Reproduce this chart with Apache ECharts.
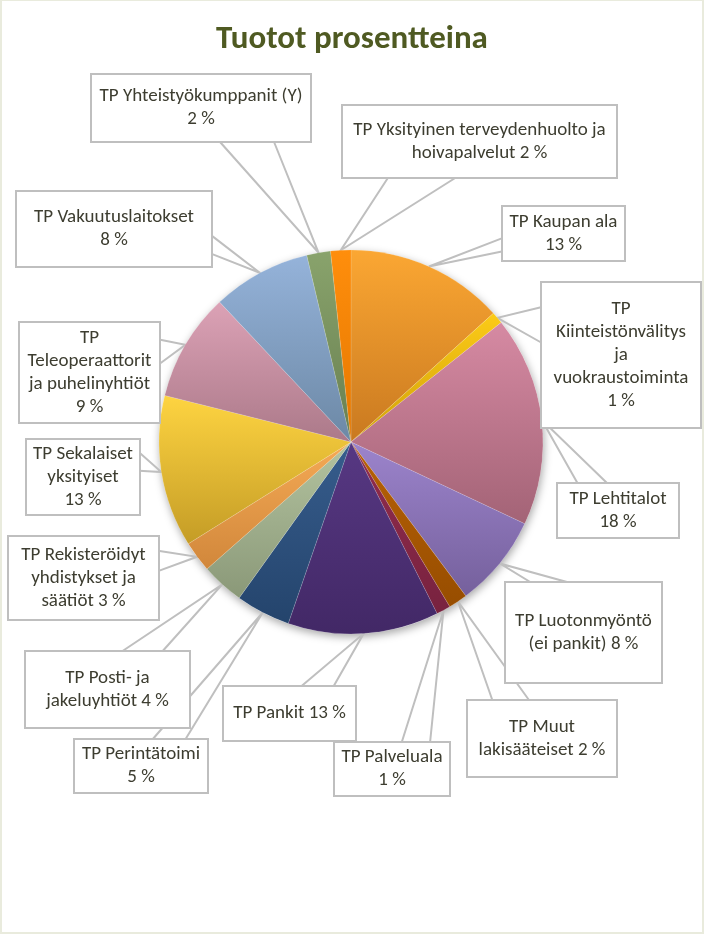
<!DOCTYPE html>
<html>
<head>
<meta charset="utf-8">
<script src="https://cdn.jsdelivr.net/npm/echarts@6/dist/echarts.min.js"></script>
<style>
  html, body { margin: 0; padding: 0; width: 704px; height: 934px; background: #E9EBDD; overflow: hidden; }
  #chart { position: absolute; left: 2px; top: 1px; width: 700px; height: 931px; background: #ffffff; }
</style>
</head>
<body>
<div id="chart"></div>
<script>
// ---- data ----
const categories = [
  'TP Kaupan ala',
  'TP Kiinteistönvälitys ja vuokraustoiminta',
  'TP Lehtitalot',
  'TP Luotonmyöntö (ei pankit)',
  'TP Muut lakisääteiset',
  'TP Palveluala',
  'TP Pankit',
  'TP Perintätoimi',
  'TP Posti- ja jakeluyhtiöt',
  'TP Rekisteröidyt yhdistykset ja säätiöt',
  'TP Sekalaiset yksityiset',
  'TP Teleoperaattorit ja puhelinyhtiöt',
  'TP Vakuutuslaitokset',
  'TP Yhteistyökumppanit (Y)',
  'TP Yksityinen terveydenhuolto ja hoivapalvelut'
];
const shares = [13.3, 1.0, 17.7, 7.8, 1.6, 1.2, 12.7, 4.6, 3.6, 2.6, 12.8, 9.1, 8.3, 2.0, 1.7];
// label text with line breaks (%P = rounded percentage)
const labelText = [
  'TP Kaupan ala\n%P',
  'TP\nKiinteistönvälitys\nja\nvuokraustoiminta\n%P',
  'TP Lehtitalot\n%P',
  'TP Luotonmyöntö\n(ei pankit) %P',
  'TP Muut\nlakisääteiset %P',
  'TP Palveluala\n%P',
  'TP Pankit %P',
  'TP Perintätoimi\n%P',
  'TP Posti- ja\njakeluyhtiöt %P',
  'TP Rekisteröidyt\nyhdistykset ja\nsäätiöt %P',
  'TP Sekalaiset\nyksityiset\n%P',
  'TP\nTeleoperaattorit\nja puhelinyhtiöt\n%P',
  'TP Vakuutuslaitokset\n%P',
  'TP Yhteistyökumppanit (Y)\n%P',
  'TP Yksityinen terveydenhuolto ja\nhoivapalvelut %P'
];

// ---- styles / layout ----
const palette = [
  ['#FBA733', '#C97920'],
  ['#FCCB17', '#D0A00A'],
  ['#D68AA3', '#A36376'],
  ['#9C84CC', '#75609C'],
  ['#B86206', '#974D00'],
  ['#922D4E', '#78223F'],
  ['#573883', '#422866'],
  ['#375D8D', '#24446C'],
  ['#B4C4A0', '#8A9878'],
  ['#F5AA55', '#D1873B'],
  ['#FED441', '#C49C26'],
  ['#DCA2B6', '#AB7989'],
  ['#95B3DA', '#6C88A5'],
  ['#89A36C', '#687F50'],
  ['#FF8E0C', '#E47700']
];
const boxCenter = [
  [561.5, 232.5], [619, 354], [616, 509.5], [581.5, 631.5], [540, 737.5],
  [390, 768], [287.5, 712.5], [139, 765], [105.5, 688.5], [81.5, 577],
  [81, 476], [87.5, 371.5], [112, 228], [199, 107], [477.5, 140.5]
];
const boxSize = [
  [121, 53], [158, 144], [120, 53], [155, 99], [148, 75],
  [114, 52], [131, 53], [132, 52], [163, 75], [149, 82],
  [112, 74], [139, 99], [194, 74], [218, 66], [273, 71]
];
const LINE_H = 23;
const FONT = 'Carlito, "Liberation Sans Narrow", "Open Sans", sans-serif';
const PIE_CENTER = [349, 441];
const PIE_R = 192;

function wedge(tip, c, s) {
  const w = s[0], h = s[1];
  const l = c[0] - w / 2, t = c[1] - h / 2, r = c[0] + w / 2, b = c[1] + h / 2;
  const dxPos = tip[0] - c[0], dyPos = tip[1] - c[1];
  if (Math.abs(dxPos * h) > Math.abs(dyPos * w)) {
    const y1 = t + h * (dyPos > 0 ? 7 : 2) / 12;
    const y2 = t + h * (dyPos > 0 ? 10 : 5) / 12;
    const x = dxPos > 0 ? r : l;
    return [[x, y1], [tip[0], tip[1]], [x, y2]];
  } else {
    const x1 = l + w * (dxPos > 0 ? 7 : 2) / 12;
    const x2 = l + w * (dxPos > 0 ? 10 : 5) / 12;
    const y = dyPos > 0 ? b : t;
    return [[x1, y], [tip[0], tip[1]], [x2, y]];
  }
}

const pieData = categories.map(function (name, i) {
  const nLines = labelText[i].split('\n').length;
  const s = boxSize[i];
  return {
    name: name,
    value: shares[i],
    itemStyle: {
      color: {
        type: 'linear', x: 0, y: 0, x2: 0, y2: 1,
        colorStops: [{ offset: 0, color: palette[i][0] }, { offset: 1, color: palette[i][1] }]
      }
    },
    label: {
      width: s[0],
      padding: [(s[1] - nLines * LINE_H) / 2, 0, (s[1] - nLines * LINE_H) / 2, 0]
    }
  };
});

const chart = echarts.init(document.getElementById('chart'), null, { renderer: 'canvas' });
chart.setOption({
  animation: false,
  backgroundColor: '#ffffff',
  title: {
    text: 'Tuotot prosentteina',
    left: 'center',
    top: 17,
    textStyle: { fontFamily: FONT, fontSize: 33, fontWeight: 'bold', color: '#4F5A22' }
  },
  series: [
    {
      type: 'pie',
      silent: true,
      z: 1,
      center: PIE_CENTER,
      radius: PIE_R,
      label: { show: false },
      labelLine: { show: false },
      itemStyle: {
        color: '#ffffff',
        shadowBlur: 8,
        shadowOffsetX: 1,
        shadowOffsetY: 3,
        shadowColor: 'rgba(0,0,0,0.35)'
      },
      data: [{ value: 1, name: '' }]
    },
    {
      type: 'pie',
      z: 2,
      center: PIE_CENTER,
      radius: PIE_R,
      startAngle: 90,
      clockwise: true,
      avoidLabelOverlap: false,
      itemStyle: { borderColor: 'rgba(255,255,255,0.25)', borderWidth: 0.5 },
      label: {
        show: true,
        position: 'outside',
        alignTo: 'none',
        fontFamily: FONT,
        fontSize: 19,
        lineHeight: LINE_H,
        color: '#3D3D30',
        align: 'center',
        backgroundColor: '#ffffff',
        borderColor: '#BFBFBF',
        borderWidth: 2,
        formatter: function (p) {
          return labelText[p.dataIndex].replace('%P', Math.round(p.percent) + ' %');
        }
      },
      labelLine: {
        show: true,
        length: 10,
        length2: 10,
        smooth: false,
        lineStyle: { color: '#BFBFBF', width: 2 }
      },
      labelLayout: function (params) {
        const i = params.dataIndex;
        const c = boxCenter[i], s = boxSize[i];
        const res = { x: c[0], y: c[1], align: 'center', verticalAlign: 'middle' };
        if (params.labelLinePoints && params.labelLinePoints[0]) {
          res.labelLinePoints = wedge(params.labelLinePoints[0], c, s);
        }
        return res;
      },
      data: pieData
    }
  ]
});
</script>
</body>
</html>
